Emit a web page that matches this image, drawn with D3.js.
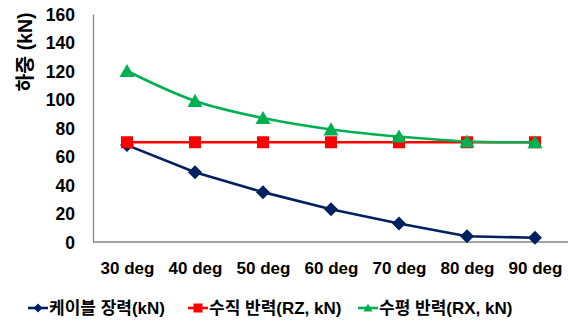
<!DOCTYPE html>
<html>
<head>
<meta charset="utf-8">
<script src="https://cdn.jsdelivr.net/npm/d3@7"></script>
<style>
  html, body { margin: 0; padding: 0; background: #fff; }
  svg { display: block; }
  text { font-family: "Liberation Sans", Arial, "Noto Sans CJK KR", sans-serif; font-weight: bold; fill: #000; }
</style>
</head>
<body>
<svg id="chart" width="568" height="322"></svg>
<script>
// Cable angle categories
const categories = ["30 deg", "40 deg", "50 deg", "60 deg", "70 deg", "80 deg", "90 deg"];
// Load values (kN)
const cableTension = [68, 49, 35, 23, 13, 4, 3];
const verticalReaction = [70, 70, 70, 70, 70, 70, 70];
const horizontalReaction = [120, 99, 87, 79, 74, 70.5, 70];
const yTicks = [0, 20, 40, 60, 80, 100, 120, 140, 160];
const seriesNames = ["케이블 장력(kN)", "수직 반력(RZ, kN)", "수평 반력(RX, kN)"];
const yTitle = "하중 (kN)";

const series = [
  { name: seriesNames[0], values: cableTension, color: "#002060", marker: "diamond", curve: d3.curveLinear },
  { name: seriesNames[1], values: verticalReaction, color: "#FF0000", marker: "square", curve: d3.curveLinear },
  { name: seriesNames[2], values: horizontalReaction, color: "#00B050", marker: "triangle", curve: d3.curveCatmullRom }
];

const svg = d3.select("#chart");

const x = d3.scalePoint().domain(categories).range([93, 569]).padding(0.5);
const y = d3.scaleLinear().domain([0, 160]).range([242, 14]);

// Axes
const yAxis = svg.append("g").attr("transform", "translate(93,0)")
  .call(d3.axisLeft(y).tickValues(yTicks).tickSize(0).tickPadding(18));
yAxis.select(".domain").attr("stroke", "#868686").attr("stroke-width", 1.3);
yAxis.selectAll("text").style("font-size", "17.5px").attr("dy", "0.35em");

const xAxis = svg.append("g").attr("transform", "translate(0,242)")
  .call(d3.axisBottom(x).tickSize(0).tickPadding(0));
xAxis.select(".domain").attr("d", "M93,0H568").attr("stroke", "#868686").attr("stroke-width", 1.3);
xAxis.selectAll("text").style("font-size", "17px").attr("y", 26).attr("dy", "0.35em");

// Y-axis title
svg.append("text")
  .attr("transform", "translate(25,52) rotate(-90)")
  .attr("text-anchor", "middle")
  .attr("dy", "0.35em")
  .style("font-size", "19.5px")
  .text(yTitle);

function markerPath(kind, w) {
  const h = w / 2;
  if (kind === "diamond") return `M0,${-h}L${h},0L0,${h}L${-h},0Z`;
  if (kind === "square") return `M${-h},${-h}H${h}V${h}H${-h}Z`;
  // triangle, base at bottom
  return `M0,${-h * 0.95}L${h},${h * 0.8}L${-h},${h * 0.8}Z`;
}

const markerSize = { diamond: 14, square: 12, triangle: 15 };

series.forEach(s => {
  const line = d3.line()
    .x((d, i) => x(categories[i]))
    .y(d => y(d))
    .curve(s.curve);
  svg.append("path")
    .datum(s.values)
    .attr("d", line)
    .attr("fill", "none")
    .attr("stroke", s.color)
    .attr("stroke-width", 2.6);
  svg.append("g").selectAll("path")
    .data(s.values)
    .join("path")
    .attr("transform", (d, i) => `translate(${x(categories[i])},${y(d)})`)
    .attr("d", markerPath(s.marker, markerSize[s.marker]))
    .attr("fill", s.color);
});

// Legend
const legendX = [28, 188, 358];
const legend = svg.append("g").attr("transform", "translate(0,308)");
series.forEach((s, i) => {
  const g = legend.append("g").attr("transform", `translate(${legendX[i]},0)`);
  g.append("line").attr("x1", 0).attr("x2", 20).attr("y1", 0).attr("y2", 0)
    .attr("stroke", s.color).attr("stroke-width", 2.6);
  g.append("path").attr("transform", "translate(10,0)")
    .attr("d", markerPath(s.marker, 9)).attr("fill", s.color);
  g.append("text").attr("x", 21).attr("dy", "0.35em")
    .style("font-size", "17px").text(s.name);
});
</script>
</body>
</html>
